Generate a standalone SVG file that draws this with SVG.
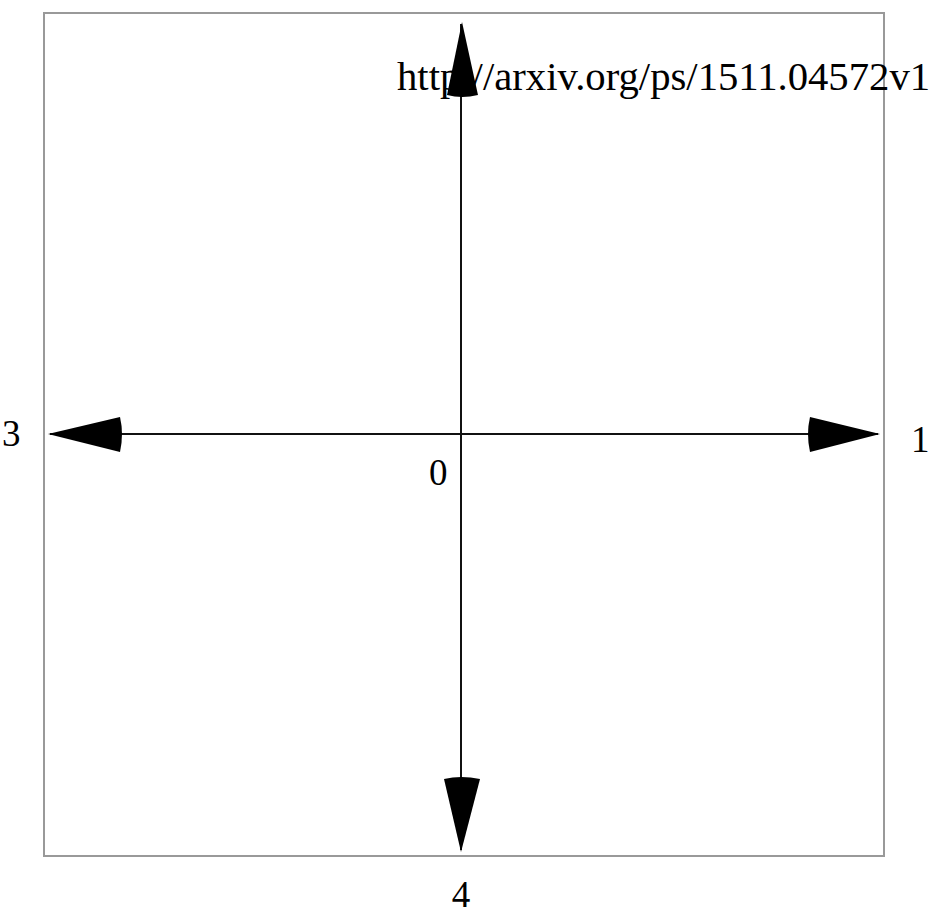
<svg xmlns="http://www.w3.org/2000/svg" width="932" height="916" viewBox="0 0 932 916">
<style>
.lbl{font-family:"Liberation Serif","Times New Roman",serif;fill:#000}
.ax{stroke:#111;stroke-width:2;fill:none}
.head{fill:#000;stroke:none}
</style>
<rect width="932" height="916" fill="#fff"/>
<g id="frame"><rect x="44" y="13" width="840" height="843" fill="none" stroke="#999" stroke-width="2"/></g>
<g id="connectors">
<line class="ax" x1="50" y1="434" x2="878" y2="434"/>
<line class="ax" x1="461" y1="24" x2="461" y2="850"/>
<path class="head" d="M48,434 L120,417 Q124,434 120,452 Z"/>
<path class="head" d="M880,434 L810,417 Q806,434 810,452 Z"/>
<path class="head" d="M462,22 L447,95 Q462,99 478,95 Z"/>
<path class="head" d="M461,852 L444,779 Q461,775 480,779 Z"/>
</g>
<g id="n0"><text class="lbl" x="429" y="485" font-size="37">0</text></g>
<g id="n1"><text class="lbl" x="911" y="452" font-size="37">1</text></g>
<g id="n3"><text class="lbl" x="2" y="446" font-size="37">3</text></g>
<g id="n4"><text class="lbl" x="461" y="907" font-size="37" text-anchor="middle">4</text></g>
<g id="url"><text class="lbl" x="397" y="90" font-size="40.7">http://arxiv.org/ps/1511.04572v1</text></g>
</svg>
